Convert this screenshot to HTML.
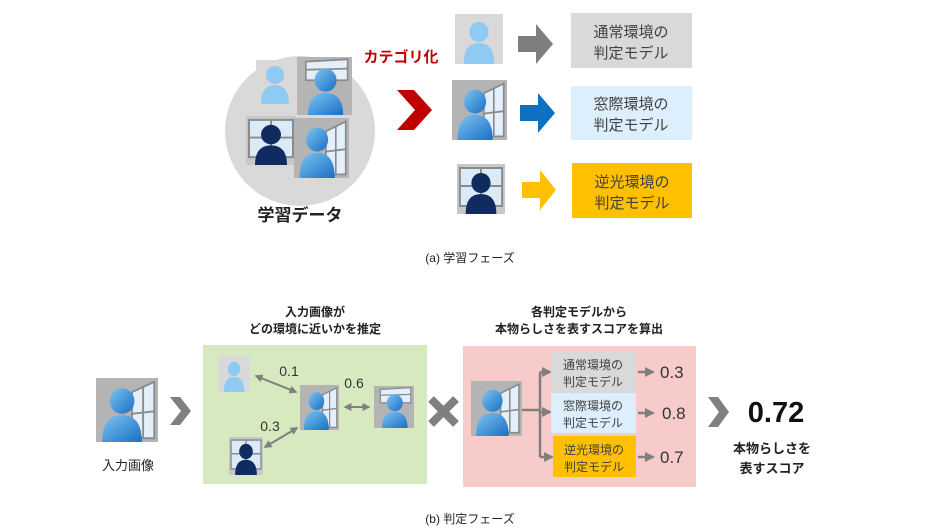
<!DOCTYPE html>
<html><head><meta charset="utf-8"><style>
html,body{margin:0;padding:0;background:#fff;}
svg{display:block;font-family:"Liberation Sans","Noto Sans CJK JP",sans-serif;}
</style></head><body>
<svg width="940" height="531" viewBox="0 0 940 531" xmlns="http://www.w3.org/2000/svg">
<defs>
<linearGradient id="pg" x1="0" y1="0" x2="1" y2="1">
<stop offset="0" stop-color="#7cc4f2"/><stop offset="1" stop-color="#1a6fc4"/>
</linearGradient>
<g id="pA">
<rect x="0" y="0" width="50" height="50" fill="#d9d9d9"/>
<circle cx="25" cy="18" r="10" fill="#8fcaf3"/>
<path d="M9 50 Q9 29 25 29 Q41 29 41 50 Z" fill="#8fcaf3"/>
</g>
<g id="pB">
<rect x="0" y="0" width="50" height="50" fill="#b4b4b4"/>
<polygon points="29,11 47,3 47,47 29,47" fill="#e3f0fb" stroke="#8a8a8a" stroke-width="1.5"/>
<line x1="38" y1="7" x2="38" y2="47" stroke="#8a8a8a" stroke-width="1.5"/>
<line x1="29" y1="28" x2="47" y2="26" stroke="#8a8a8a" stroke-width="1.5"/>
<circle cx="21" cy="18" r="10" fill="url(#pg)"/>
<path d="M5 50 Q5 29 21 29 Q37 29 37 50 Z" fill="url(#pg)"/>
</g>
<g id="pC">
<rect x="0" y="0" width="50" height="50" fill="#c8c8c8"/>
<rect x="3" y="4" width="44" height="38" fill="#dbeaf7" stroke="#8a8a8a" stroke-width="2"/>
<line x1="25" y1="4" x2="25" y2="42" stroke="#8a8a8a" stroke-width="2"/>
<line x1="3" y1="22" x2="47" y2="22" stroke="#8a8a8a" stroke-width="2"/>
<circle cx="25" cy="19" r="10" fill="#0f2b5f"/>
<path d="M9 50 Q9 30 25 30 Q41 30 41 50 Z" fill="#0f2b5f"/>
</g>
<g id="pD">
<rect x="0" y="0" width="50" height="50" fill="#b4b4b4"/>
<polygon points="8,4 46,2 46,20 8,20" fill="#e3f0fb" stroke="#8a8a8a" stroke-width="1.5"/>
<line x1="8" y1="11" x2="46" y2="10" stroke="#8a8a8a" stroke-width="1.5"/>
<circle cx="26" cy="20" r="10" fill="url(#pg)"/>
<path d="M10 50 Q10 31 26 31 Q42 31 42 50 Z" fill="url(#pg)"/>
</g>
<marker id="ah" viewBox="0 0 10 10" refX="8" refY="5" markerWidth="4" markerHeight="4" orient="auto-start-reverse"><path d="M0 0 L10 5 L0 10 Z" fill="#7f7f7f"/></marker>
</defs>

<!-- (a) -->
<circle cx="300" cy="131" r="75" fill="#d9d9d9"/>
<use href="#pA" transform="translate(256,60) scale(0.82,0.9)"/>
<rect x="256" y="60" width="41" height="45" fill="#d9d9d9"/>
<circle cx="275" cy="75" r="9" fill="#8fcaf3"/><path d="M261 104 Q261 85 275 85 Q289 85 289 104 Z" fill="#8fcaf3"/>
<use href="#pD" transform="translate(297,57) scale(1.1,1.16)"/>
<use href="#pC" transform="translate(246,116) scale(1.0,0.98)"/>
<use href="#pB" transform="translate(294,118) scale(1.1,1.2)"/>
<text x="300" y="221" font-size="17" font-weight="bold" text-anchor="middle" fill="#222">学習データ</text>
<text x="401" y="62" font-size="15" font-weight="bold" text-anchor="middle" fill="#c00000">カテゴリ化</text>
<polygon points="397,90 414,90 432,110 414,130 397,130 415,110" fill="#c00000"/>

<use href="#pA" transform="translate(455,14) scale(0.96,1.0)"/>
<use href="#pB" transform="translate(452,80) scale(1.1,1.2)"/>
<use href="#pC" transform="translate(457,164) scale(0.96,1.0)"/>

<polygon points="518,36 536,36 536,24 553,44 536,64 536,52 518,52" fill="#7f7f7f"/>
<polygon points="520,105 538,105 538,93 555,113 538,133 538,121 520,121" fill="#1070c0"/>
<polygon points="522,182 540,182 540,170 556,190 540,210 540,198 522,198" fill="#ffc000"/>

<rect x="571" y="13" width="121" height="55" fill="#d9d9d9"/>
<text x="631" y="37" font-size="15" text-anchor="middle" fill="#404040">通常環境の</text>
<text x="631" y="58" font-size="15" text-anchor="middle" fill="#404040">判定モデル</text>
<rect x="571" y="86" width="121" height="54" fill="#ddeefc"/>
<text x="631" y="109" font-size="15" text-anchor="middle" fill="#404040">窓際環境の</text>
<text x="631" y="130" font-size="15" text-anchor="middle" fill="#404040">判定モデル</text>
<rect x="572" y="163" width="120" height="55" fill="#ffc000"/>
<text x="632" y="187" font-size="15" text-anchor="middle" fill="#404040">逆光環境の</text>
<text x="632" y="208" font-size="15" text-anchor="middle" fill="#404040">判定モデル</text>

<text x="470" y="262" font-size="12" text-anchor="middle" fill="#222">(a) 学習フェーズ</text>

<!-- (b) -->
<text x="315" y="316" font-size="12" font-weight="bold" text-anchor="middle" fill="#222">入力画像が</text>
<text x="315" y="333" font-size="12" font-weight="bold" text-anchor="middle" fill="#222">どの環境に近いかを推定</text>
<text x="579" y="316" font-size="12" font-weight="bold" text-anchor="middle" fill="#222">各判定モデルから</text>
<text x="579" y="333" font-size="12" font-weight="bold" text-anchor="middle" fill="#222">本物らしさを表すスコアを算出</text>

<use href="#pB" transform="translate(96,378) scale(1.24,1.28)"/>
<text x="128" y="470" font-size="13" text-anchor="middle" fill="#222">入力画像</text>
<polygon points="170,397 180,397 191,411 180,425 170,425 181,411" fill="#7f7f7f"/>

<rect x="203" y="345" width="224" height="139" fill="#d7eabf"/>
<use href="#pA" transform="translate(218,356) scale(0.64,0.72)"/>
<use href="#pB" transform="translate(300,385) scale(0.78,0.9)"/>
<use href="#pD" transform="translate(374,386) scale(0.8,0.84)"/>
<use href="#pC" transform="translate(229,437) scale(0.68,0.76)"/>
<line x1="256" y1="376" x2="296" y2="392" stroke="#7f7f7f" stroke-width="2" marker-start="url(#ah)" marker-end="url(#ah)"/>
<line x1="345" y1="407" x2="369" y2="407" stroke="#7f7f7f" stroke-width="2" marker-start="url(#ah)" marker-end="url(#ah)"/>
<line x1="265" y1="447" x2="297" y2="428" stroke="#7f7f7f" stroke-width="2" marker-start="url(#ah)" marker-end="url(#ah)"/>
<text x="289" y="376" font-size="14" text-anchor="middle" fill="#333">0.1</text>
<text x="354" y="388" font-size="14" text-anchor="middle" fill="#333">0.6</text>
<text x="270" y="431" font-size="14" text-anchor="middle" fill="#333">0.3</text>

<g stroke="#7f7f7f" stroke-width="8"><line x1="431" y1="399" x2="456" y2="424"/><line x1="456" y1="399" x2="431" y2="424"/></g>

<rect x="463" y="346" width="233" height="141" fill="#f8cbcb"/>
<use href="#pB" transform="translate(471,381) scale(1.02,1.1)"/>
<g stroke="#7f7f7f" stroke-width="2.5" fill="none">
<line x1="522" y1="410" x2="540" y2="410"/>
<line x1="540" y1="372" x2="540" y2="457"/>
</g>
<line x1="540" y1="372" x2="550" y2="372" stroke="#7f7f7f" stroke-width="2.5" marker-end="url(#ah)"/>
<line x1="540" y1="412" x2="550" y2="412" stroke="#7f7f7f" stroke-width="2.5" marker-end="url(#ah)"/>
<line x1="540" y1="457" x2="552" y2="457" stroke="#7f7f7f" stroke-width="2.5" marker-end="url(#ah)"/>
<rect x="551" y="352" width="85" height="41" fill="#d9d9d9"/>
<text x="593" y="369" font-size="12" text-anchor="middle" fill="#404040">通常環境の</text>
<text x="593" y="386" font-size="12" text-anchor="middle" fill="#404040">判定モデル</text>
<rect x="551" y="393" width="85" height="40" fill="#ddeefc"/>
<text x="593" y="410" font-size="12" text-anchor="middle" fill="#404040">窓際環境の</text>
<text x="593" y="427" font-size="12" text-anchor="middle" fill="#404040">判定モデル</text>
<rect x="553" y="436" width="83" height="41" fill="#ffc000"/>
<text x="594" y="454" font-size="12" text-anchor="middle" fill="#404040">逆光環境の</text>
<text x="594" y="471" font-size="12" text-anchor="middle" fill="#404040">判定モデル</text>
<g stroke="#7f7f7f" stroke-width="2.5">
<line x1="638" y1="372" x2="653" y2="372" marker-end="url(#ah)"/>
<line x1="638" y1="413" x2="653" y2="413" marker-end="url(#ah)"/>
<line x1="638" y1="457" x2="653" y2="457" marker-end="url(#ah)"/>
</g>
<text x="660" y="378" font-size="17" fill="#333">0.3</text>
<text x="662" y="419" font-size="17" fill="#333">0.8</text>
<text x="660" y="463" font-size="17" fill="#333">0.7</text>

<polygon points="708,397 718,397 729,412 718,427 708,427 719,412" fill="#7f7f7f"/>
<text x="776" y="422" font-size="29" font-weight="bold" text-anchor="middle" fill="#111">0.72</text>
<text x="772" y="453" font-size="13" font-weight="bold" text-anchor="middle" fill="#222">本物らしさを</text>
<text x="772" y="473" font-size="13" font-weight="bold" text-anchor="middle" fill="#222">表すスコア</text>

<text x="470" y="523" font-size="12" text-anchor="middle" fill="#222">(b) 判定フェーズ</text>
</svg>
</body></html>
